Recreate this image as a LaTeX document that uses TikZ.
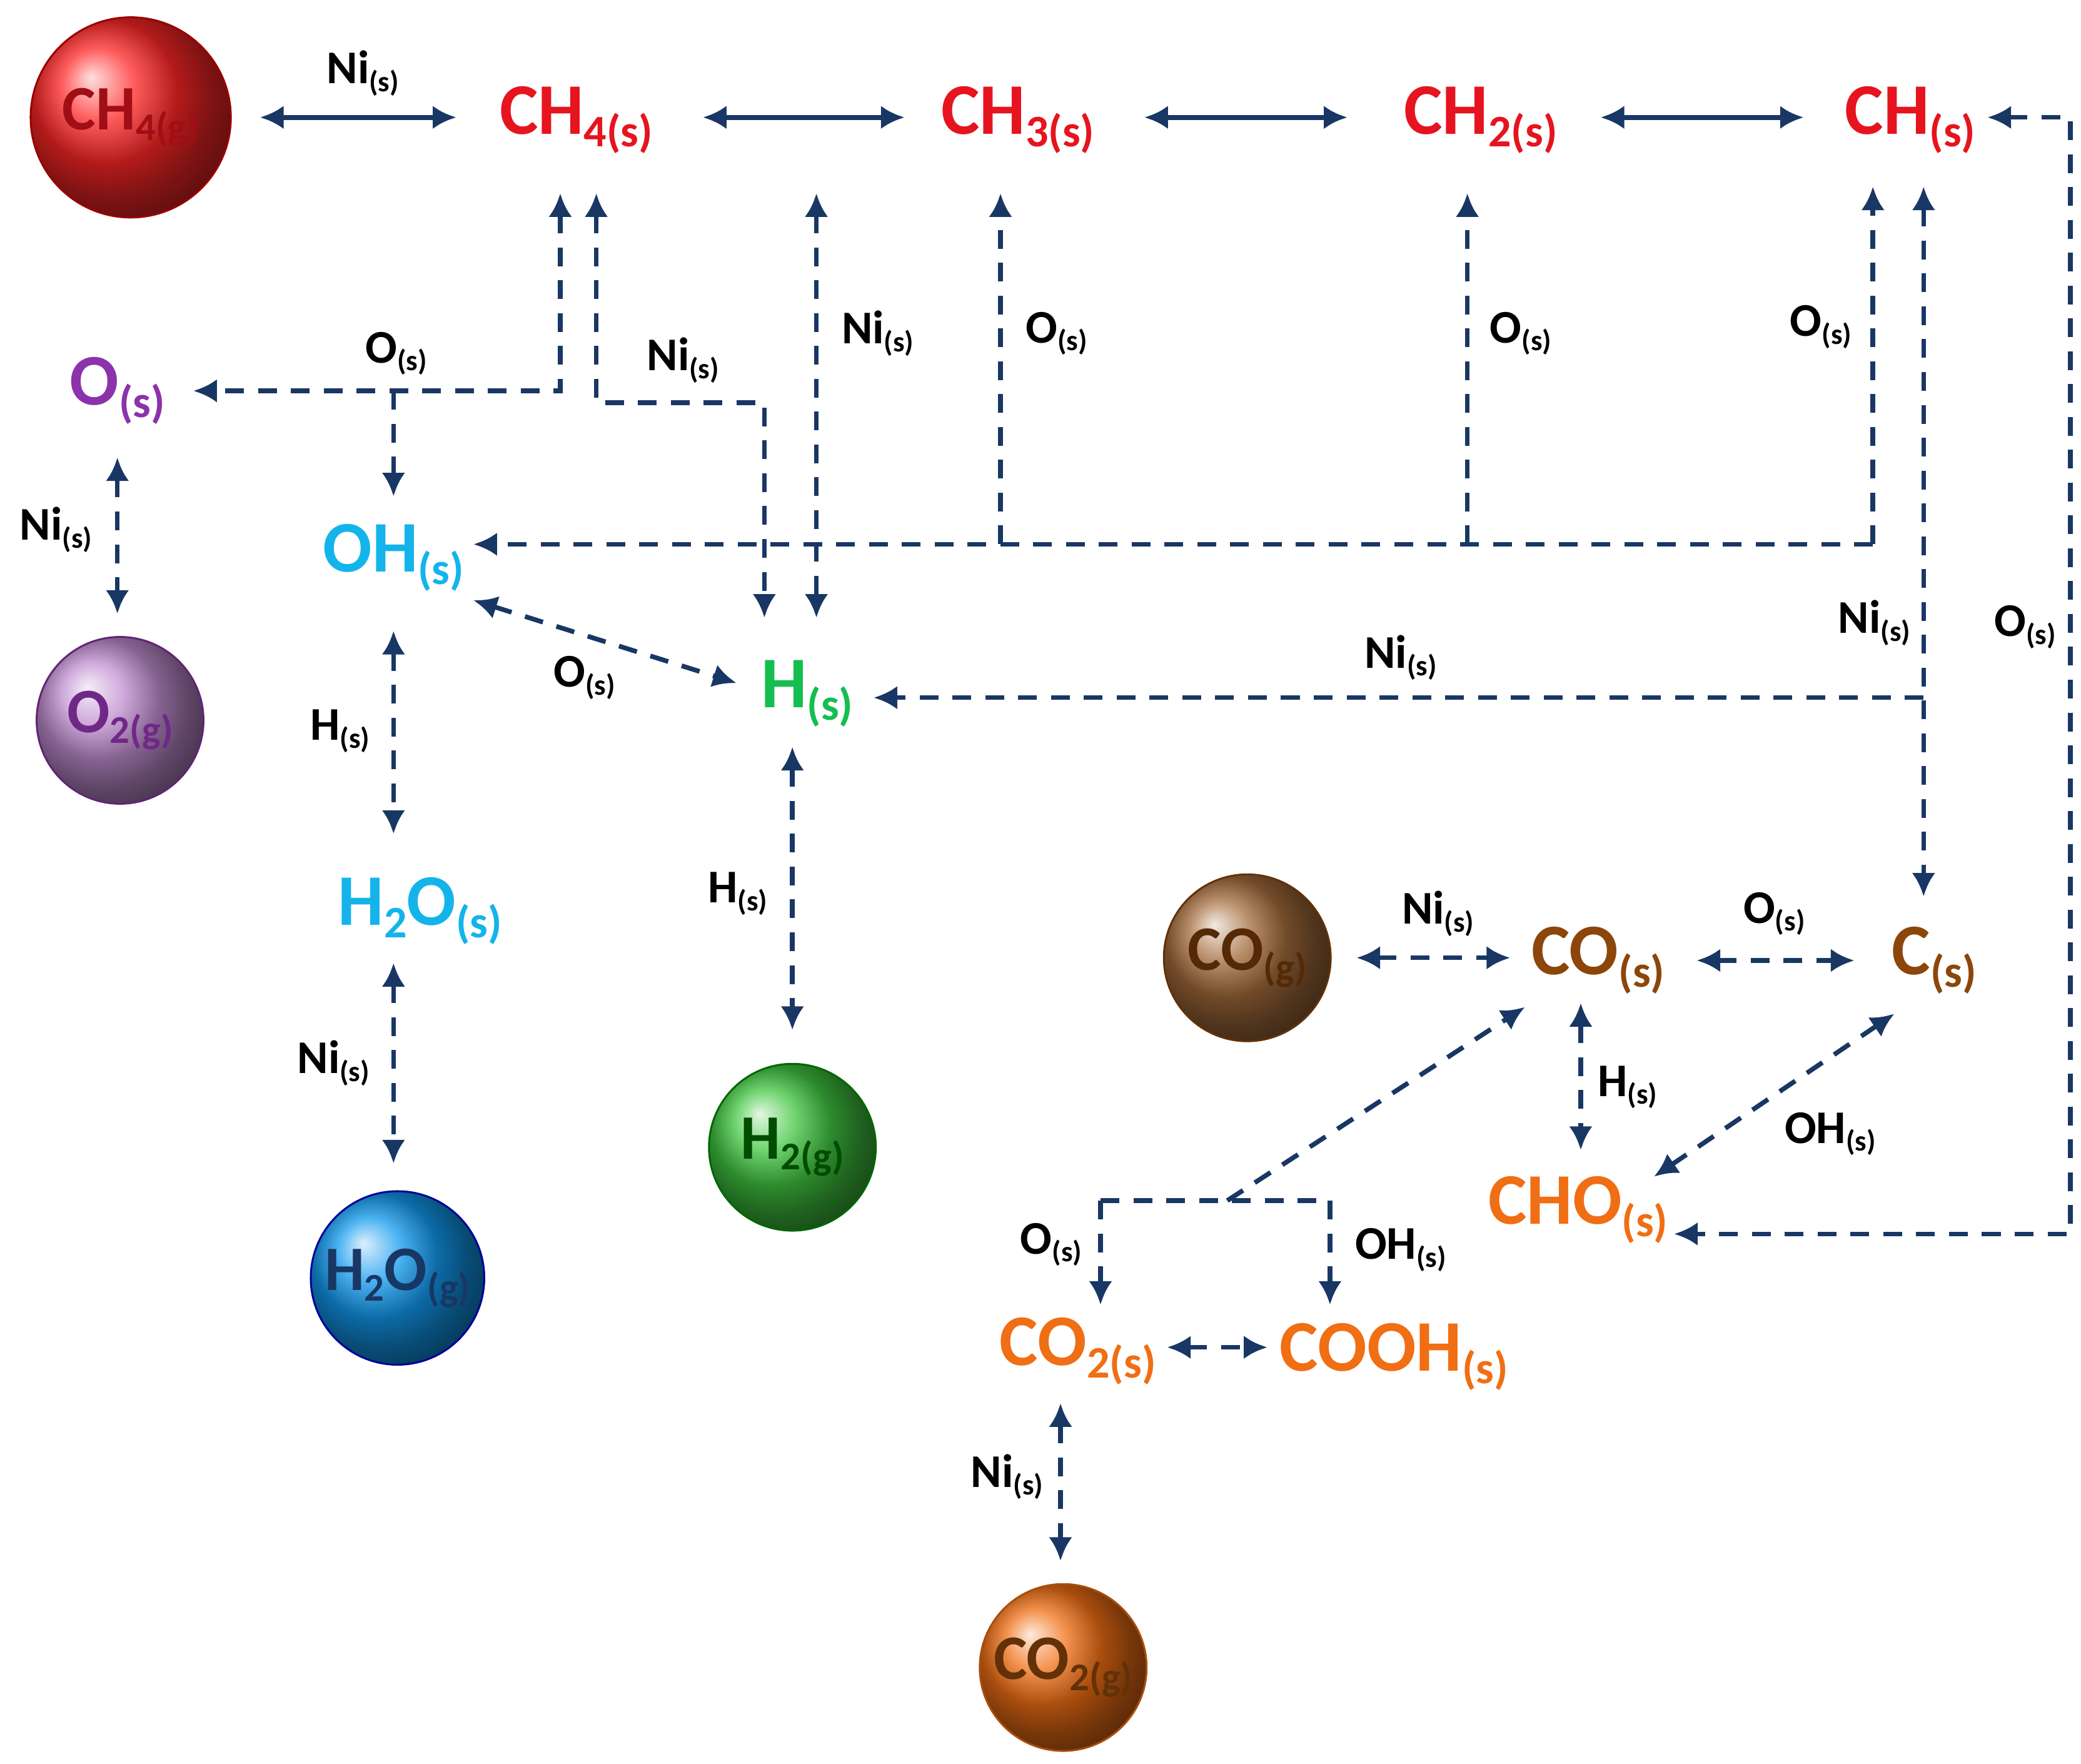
\documentclass[tikz,border=0pt]{standalone}
\usepackage{fontspec}
\setmainfont{Carlito}
\usetikzlibrary{arrows.meta,shapes.geometric}
\definecolor{nred}{RGB}{230,20,30}
\definecolor{npur}{RGB}{140,50,170}
\definecolor{ncy}{RGB}{20,180,235}
\definecolor{ngr}{RGB}{20,190,80}
\definecolor{nbr}{RGB}{140,70,10}
\definecolor{nor}{RGB}{240,110,20}
\definecolor{navy}{RGB}{25,55,100}
\newcommand{\sbx}[1]{\raisebox{-0.35ex}{\scalebox{0.62}{#1}}}
\begin{document}
\begin{tikzpicture}[x=0.01cm,y=-0.01cm,
  big/.style={font=\fontsize{15.5}{16}\selectfont\bfseries,inner sep=0pt},
  lab/.style={font=\fontsize{10}{10}\selectfont\bfseries,text=black,inner sep=0pt},
  ball/.style={circle,minimum size=#1,shading=ball,inner sep=0pt,font=\fontsize{13.5}{14}\selectfont\bfseries},
  sol/.style={navy,line width=1.1pt,{Latex[length=5pt,width=5pt]}-{Latex[length=5pt,width=5pt]}},
  da/.style={navy,line width=1pt,dash pattern=on 4pt off 3pt},
  dd/.style={da,{Latex[length=5pt,width=5pt]}-{Latex[length=5pt,width=5pt]}},
  de/.style={da,-{Latex[length=5pt,width=5pt]}}]
\useasboundingbox (0,0) rectangle (1560,1322);
% species
\node[ball=1.5cm,ball color=red!85!white,draw=red!60!black,text=nred!70!black] (ch4g) at (98,88) {CH\sbx{4(g)}};
\node[big,text=nred] (ch4s) at (432,90) {CH\sbx{4(s)}};
\node[big,text=nred] (ch3s) at (763,90) {CH\sbx{3(s)}};
\node[big,text=nred] (ch2s) at (1110,90) {CH\sbx{2(s)}};
\node[big,text=nred] (chs) at (1432,90) {CH\sbx{(s)}};
\node[big,text=npur] (os) at (88,293) {O\sbx{(s)}};
\node[ball=1.25cm,ball color=npur!55!white,draw=npur!70!black,text=npur!80!black] (o2g) at (90,540) {O\sbx{2(g)}};
\node[big,text=ncy] (ohs) at (295,418) {OH\sbx{(s)}};
\node[big,text=ncy] (h2os) at (315,683) {H\sbx{2}O\sbx{(s)}};
\node[ball=1.3cm,ball color=ncy!85!blue,draw=blue!60!black,text=navy] (h2og) at (298,958) {H\sbx{2}O\sbx{(g)}};
\node[big,text=ngr] (hs) at (605,520) {H\sbx{(s)}};
\node[ball=1.25cm,ball color=green!70!black!75!white,draw=green!40!black,text=black!70!green] (h2g) at (594,860) {H\sbx{2(g)}};
\node[ball=1.25cm,ball color=nbr!80!white,draw=nbr!70!black,text=nbr!60!black] (cog) at (935,718) {CO\sbx{(g)}};
\node[big,text=nbr] (cos) at (1198,720) {CO\sbx{(s)}};
\node[big,text=nbr] (cs) at (1450,720) {C\sbx{(s)}};
\node[big,text=nor] (chos) at (1183,907) {CHO\sbx{(s)}};
\node[big,text=nor] (co2s) at (808,1013) {CO\sbx{2(s)}};
\node[big,text=nor] (coohs) at (1045,1017) {COOH\sbx{(s)}};
\node[ball=1.25cm,ball color=nor,draw=nor!70!black,text=nbr!70!black] (co2g) at (797,1250) {CO\sbx{2(g)}};
% solid top chain
\draw[sol] (195,88) coordinate (a1) -- (342,88) coordinate (a2);
\node[lab] (l1) at (272,55) {Ni\sbx{(s)}};
\draw[sol] (527,88) coordinate (a3) -- (678,88) coordinate (a4);
\draw[sol] (858,88) coordinate (a5) -- (1010,88) coordinate (a6);
\draw[sol] (1200,88) coordinate (a7) -- (1352,88) coordinate (a8);
% CH4 -> O branch
\coordinate (p1) at (420,145); \coordinate (p2) at (420,293); \coordinate (p3) at (145,293);
\coordinate (p4) at (295,293); \coordinate (p5) at (295,372);
\draw[dd] (p1) -- (p2) -- (p3);
\draw[de] (p4) -- (p5);
\node[lab] (l2) at (297,265) {O\sbx{(s)}};
% CH4 -> H Ni
\coordinate (q1) at (447,145); \coordinate (q2) at (447,302); \coordinate (q3) at (573,302); \coordinate (q4) at (573,463);
\draw[dd] (q1) -- (q2) -- (q3) -- (q4);
\node[lab] (l3) at (512,270) {Ni\sbx{(s)}};
\coordinate (r1) at (612,145); \coordinate (r2) at (612,463);
\draw[dd] (r1) -- (r2);
\node[lab] (l4) at (658,250) {Ni\sbx{(s)}};
% O branches to OH
\coordinate (s1) at (750,145); \coordinate (s2) at (750,408);
\coordinate (s3) at (1100,145); \coordinate (s4) at (1100,408);
\coordinate (s5) at (1404,140); \coordinate (s6) at (1404,408); \coordinate (s7) at (355,408);
\draw[de] (s2) -- (s1); \draw[de] (s4) -- (s3); \draw[de] (s6) -- (s5);
\draw[de] (s6) -- (s7);
\node[lab] (l5) at (792,250) {O\sbx{(s)}};
\node[lab] (l6) at (1140,250) {O\sbx{(s)}};
\node[lab] (l7) at (1365,245) {O\sbx{(s)}};
% CH -> C and H
\coordinate (t1) at (1442,140); \coordinate (t2) at (1442,672); \coordinate (t3) at (1442,523); \coordinate (t4) at (655,523);
\draw[dd] (t1) -- (t2);
\draw[de] (t3) -- (t4);
\node[lab] (l8) at (1405,467) {Ni\sbx{(s)}};
\node[lab] (l9) at (1050,493) {Ni\sbx{(s)}};
% outer right loop
\coordinate (u1) at (1490,88); \coordinate (u2) at (1552,88); \coordinate (u3) at (1552,925); \coordinate (u4) at (1255,925);
\draw[dd] (u1) -- (u2) -- (u3) -- (u4);
\node[lab] (l10) at (1518,470) {O\sbx{(s)}};
% left column
\coordinate (v1) at (88,343); \coordinate (v2) at (88,460);
\draw[dd] (v1) -- (v2);
\node[lab] (l11) at (42,397) {Ni\sbx{(s)}};
\coordinate (w1) at (355,450); \coordinate (w2) at (552,512);
\draw[dd] (w1) -- (w2);
\node[lab] (l12) at (438,508) {O\sbx{(s)}};
\coordinate (x1) at (295,473); \coordinate (x2) at (295,625);
\draw[dd] (x1) -- (x2);
\node[lab] (l13) at (255,548) {H\sbx{(s)}};
\coordinate (x3) at (295,722); \coordinate (x4) at (295,872);
\draw[dd] (x3) -- (x4);
\node[lab] (l14) at (250,797) {Ni\sbx{(s)}};
\coordinate (y1) at (594,560); \coordinate (y2) at (594,772);
\draw[dd] (y1) -- (y2);
\node[lab] (l15) at (553,670) {H\sbx{(s)}};
% CO area
\coordinate (z1) at (1017,718); \coordinate (z2) at (1132,718);
\draw[dd] (z1) -- (z2);
\node[lab] (l16) at (1078,685) {Ni\sbx{(s)}};
\coordinate (z3) at (1272,720); \coordinate (z4) at (1390,720);
\draw[dd] (z3) -- (z4);
\node[lab] (l17) at (1330,685) {O\sbx{(s)}};
\coordinate (z5) at (1185,752); \coordinate (z6) at (1185,862);
\draw[dd] (z5) -- (z6);
\node[lab] (l18) at (1220,815) {H\sbx{(s)}};
\coordinate (z7) at (1420,760); \coordinate (z8) at (1240,882);
\draw[dd] (z7) -- (z8);
\node[lab] (l19) at (1372,850) {OH\sbx{(s)}};
\coordinate (k1) at (920,900); \coordinate (k2) at (1143,755);
\coordinate (k3) at (825,900); \coordinate (k4) at (825,978);
\coordinate (k5) at (997,900); \coordinate (k6) at (997,978);
\draw[de] (k1) -- (k2);
\draw[de] (k3) -- (k4);
\draw[de] (k5) -- (k6);
\draw[da] (k3) -- (k5);
\node[lab] (l20) at (788,933) {O\sbx{(s)}};
\node[lab] (l21) at (1050,937) {OH\sbx{(s)}};
\coordinate (m1) at (875,1010); \coordinate (m2) at (950,1010);
\draw[dd] (m1) -- (m2);
\coordinate (m3) at (795,1052); \coordinate (m4) at (795,1170);
\draw[dd] (m3) -- (m4);
\node[lab] (l22) at (755,1107) {Ni\sbx{(s)}};
\end{tikzpicture}
\end{document}
